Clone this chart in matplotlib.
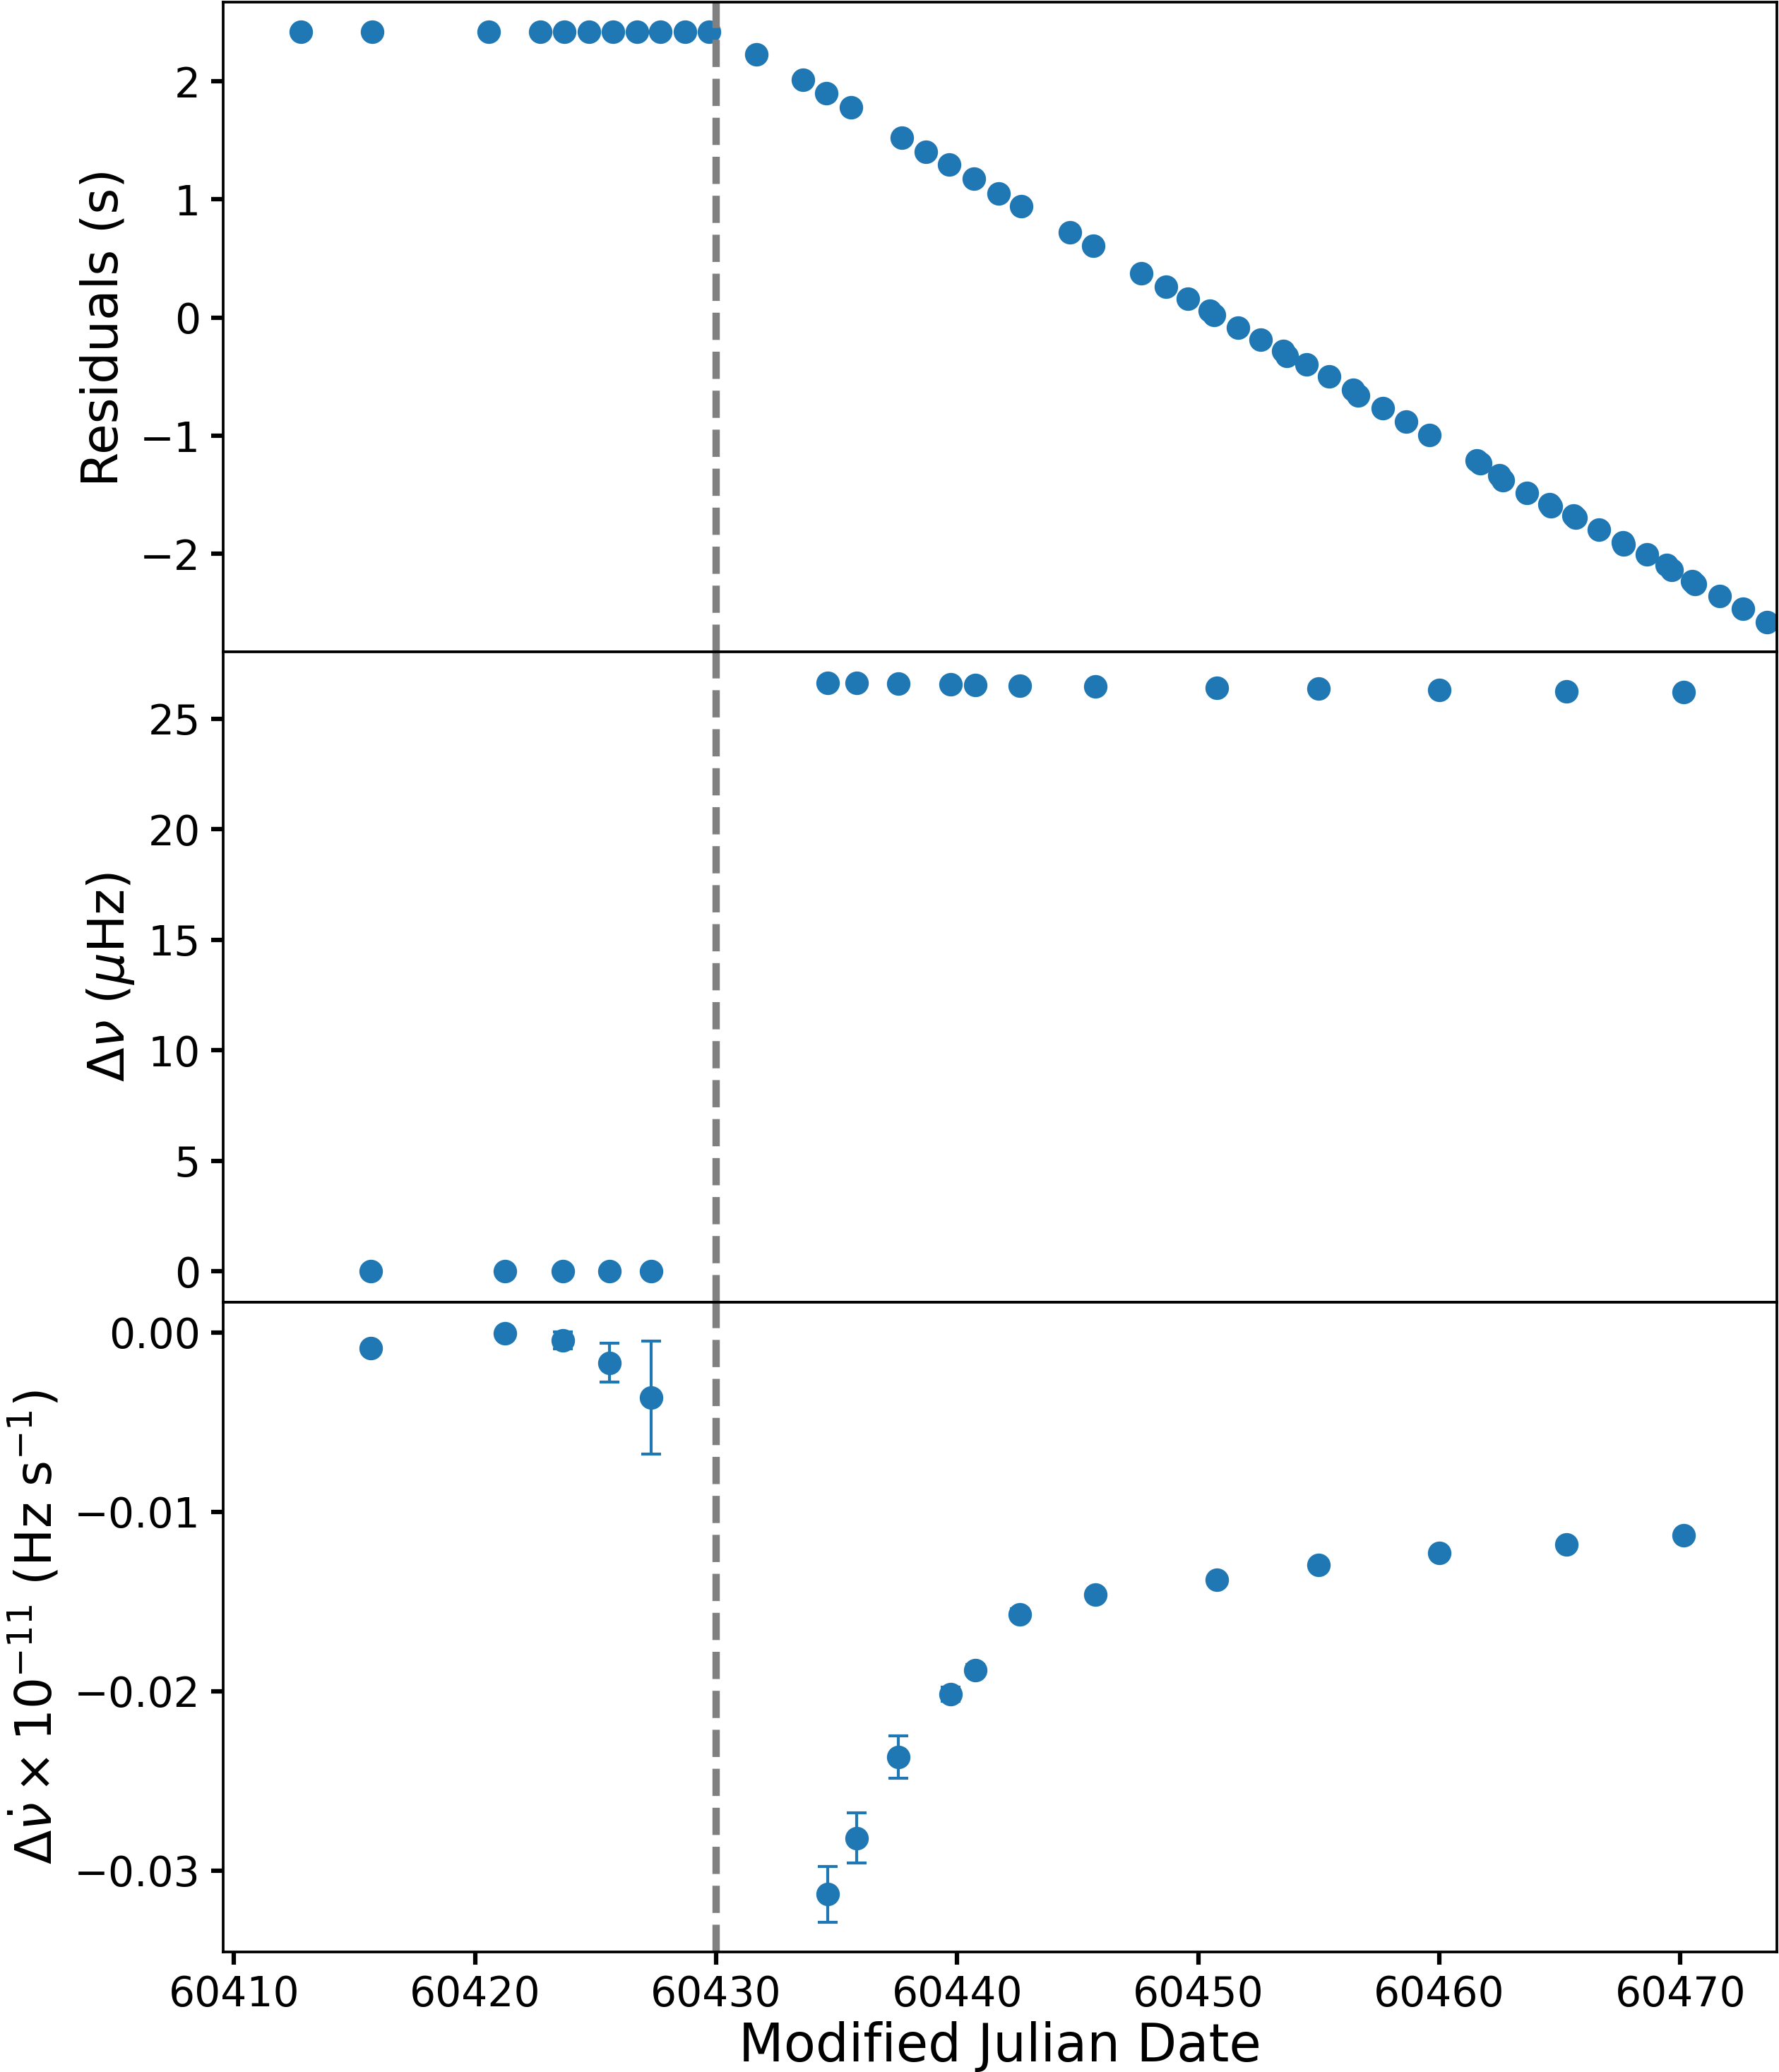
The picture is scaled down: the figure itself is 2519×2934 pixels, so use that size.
import matplotlib
matplotlib.use("Agg")
import matplotlib.pyplot as plt


# timing residuals (top panel)
res_mjd = [60412.78, 60415.74, 60420.57, 60422.72, 60423.71, 60424.74, 60425.73,
           60426.71, 60427.70, 60428.70, 60429.71, 60431.68, 60433.60, 60434.56,
           60435.59, 60437.71, 60438.70, 60439.68, 60440.69, 60441.73, 60442.66,
           60444.67, 60445.64, 60447.65, 60448.65, 60449.56, 60450.49, 60450.65,
           60451.65, 60452.59, 60453.52, 60453.66, 60454.50, 60455.43, 60456.41,
           60456.64, 60457.65, 60458.63, 60459.58, 60461.56, 60461.70, 60462.48,
           60462.64, 60463.64, 60464.57, 60464.64, 60465.55, 60465.64, 60466.62,
           60467.60, 60467.65, 60468.60, 60469.42, 60469.65, 60470.49, 60470.61,
           60471.63, 60472.59, 60473.59]
res_s = [2.42, 2.42, 2.42, 2.42, 2.42, 2.42, 2.42,
         2.42, 2.42, 2.42, 2.42, 2.227, 2.011, 1.897,
         1.780, 1.521, 1.405, 1.295, 1.178, 1.050, 0.944,
         0.720, 0.607, 0.377, 0.259, 0.160, 0.057, 0.021,
         -0.085, -0.184, -0.280, -0.326, -0.393, -0.496, -0.610,
         -0.659, -0.766, -0.879, -0.993, -1.206, -1.233, -1.336,
         -1.375, -1.481, -1.577, -1.598, -1.674, -1.695, -1.793,
         -1.903, -1.920, -2.006, -2.091, -2.134, -2.229, -2.254,
         -2.353, -2.463, -2.580]

# fitted epochs (middle and bottom panels)
fit_mjd = [60415.69, 60421.23, 60423.63, 60425.58, 60427.30,
           60434.64, 60435.83, 60437.55, 60439.73, 60440.74, 60442.59,
           60445.72, 60450.76, 60455.00, 60460.01, 60465.26, 60470.12]
dnu = [0.0, 0.0, 0.0, 0.0, 0.0,
       26.63, 26.62, 26.60, 26.56, 26.54, 26.50,
       26.46, 26.41, 26.37, 26.31, 26.25, 26.20]
dnu_err = [0.05, 0.05, 0.05, 0.05, 0.05,
           0.05, 0.05, 0.05, 0.05, 0.05, 0.05,
           0.05, 0.05, 0.05, 0.05, 0.05, 0.05]
dnudot = [-0.00089, -0.00005, -0.00045, -0.00168, -0.00364,
          -0.03132, -0.02819, -0.02367, -0.02017, -0.01881, -0.01570,
          -0.01462, -0.01378, -0.01297, -0.01228, -0.01180, -0.01130]
dnudot_err = [0.0001, 0.0001, 0.00048, 0.0011, 0.00315,
              0.00157, 0.0014, 0.00117, 0.0004, 0.0003, 0.0003,
              0.0002, 0.0002, 0.0002, 0.0001, 0.0001, 0.0001]

glitch_mjd = 60430


def main():

    fig, axes = plt.subplots( 3, 1, sharex=True, figsize=(2519 / 300, 2934 / 300), dpi=300 )

    fig.subplots_adjust( left=0.1254, right=0.9988, top=0.999, bottom=0.0579, hspace=0 )

    ax1, ax2, ax3 = axes

    ax1.plot( res_mjd, res_s, "o", color="C0", ms=7 )

    ax2.errorbar( fit_mjd, dnu, yerr=dnu_err, fmt="o", color="C0", ms=7,
                  elinewidth=1, capsize=3.3, capthick=1 )

    ax3.errorbar( fit_mjd, dnudot, yerr=dnudot_err, fmt="o", color="C0", ms=7,
                  elinewidth=1, capsize=3.3, capthick=1 )

    for ax in axes:
        ax.axvline( glitch_mjd, color="gray", ls="--", lw=2.5 )
        ax.tick_params( labelsize=14, length=4.2, width=1.5 )
        for sp in ax.spines.values():
            sp.set_linewidth( 0.9 )

    ax1.tick_params( axis="x", bottom=False )
    ax2.tick_params( axis="x", bottom=False )

    ax3.set_xlim( 60409.55, 60474.0 )

    ax1.set_ylabel( "Residuals (s)", fontsize=17 )
    ax2.set_ylabel( r"$\Delta\nu$ ($\mu$Hz)", fontsize=17 )
    ax3.set_ylabel( r"$\Delta\dot{\nu}\times10^{-11}$ (Hz s$^{-1}$)", fontsize=17 )
    ax3.set_xlabel( "Modified Julian Date", fontsize=17.7, labelpad=2 )

    fig.savefig( "out.png", dpi=300 )


if __name__ == "__main__":
    main()
